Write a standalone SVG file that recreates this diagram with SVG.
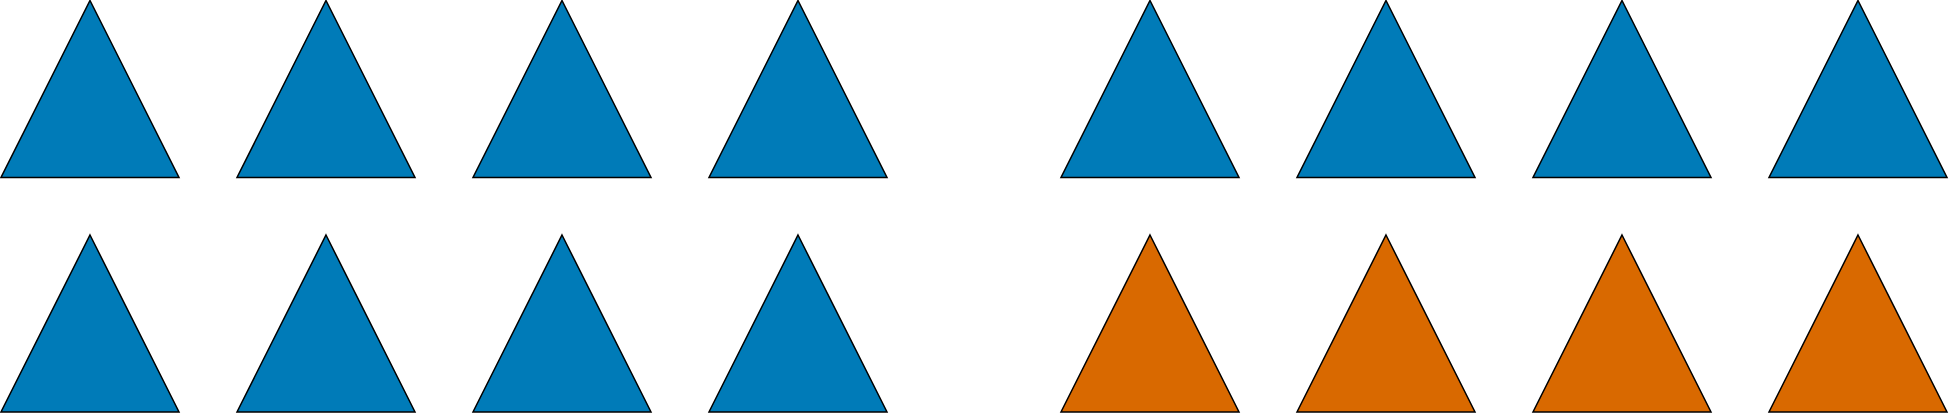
<svg xmlns="http://www.w3.org/2000/svg" width="1949" height="414" viewBox="0 0 1949 414">
<defs>
<style>
.t{stroke:#000;stroke-width:1.5;stroke-linejoin:miter}
.b{fill:#007bb8}
.o{fill:#d96900}
</style>
<polygon id="tri" points="0,0 89,177 -89,177"/>
</defs>
<rect width="1949" height="414" fill="#fff"/>
<g id="row1">
<g id="n1"><use href="#tri" class="t b" x="90" y="0.5"/></g>
<g id="n2"><use href="#tri" class="t b" x="326" y="0.5"/></g>
<g id="n3"><use href="#tri" class="t b" x="562" y="0.5"/></g>
<g id="n4"><use href="#tri" class="t b" x="798" y="0.5"/></g>
<g id="n5"><use href="#tri" class="t b" x="1150" y="0.5"/></g>
<g id="n6"><use href="#tri" class="t b" x="1386" y="0.5"/></g>
<g id="n7"><use href="#tri" class="t b" x="1622" y="0.5"/></g>
<g id="n8"><use href="#tri" class="t b" x="1858" y="0.5"/></g>
</g>
<g id="row2">
<g id="n9"><use href="#tri" class="t b" x="90" y="235"/></g>
<g id="n10"><use href="#tri" class="t b" x="326" y="235"/></g>
<g id="n11"><use href="#tri" class="t b" x="562" y="235"/></g>
<g id="n12"><use href="#tri" class="t b" x="798" y="235"/></g>
<g id="n13"><use href="#tri" class="t o" x="1150" y="235"/></g>
<g id="n14"><use href="#tri" class="t o" x="1386" y="235"/></g>
<g id="n15"><use href="#tri" class="t o" x="1622" y="235"/></g>
<g id="n16"><use href="#tri" class="t o" x="1858" y="235"/></g>
</g>
<g id="connectors"/>
</svg>
